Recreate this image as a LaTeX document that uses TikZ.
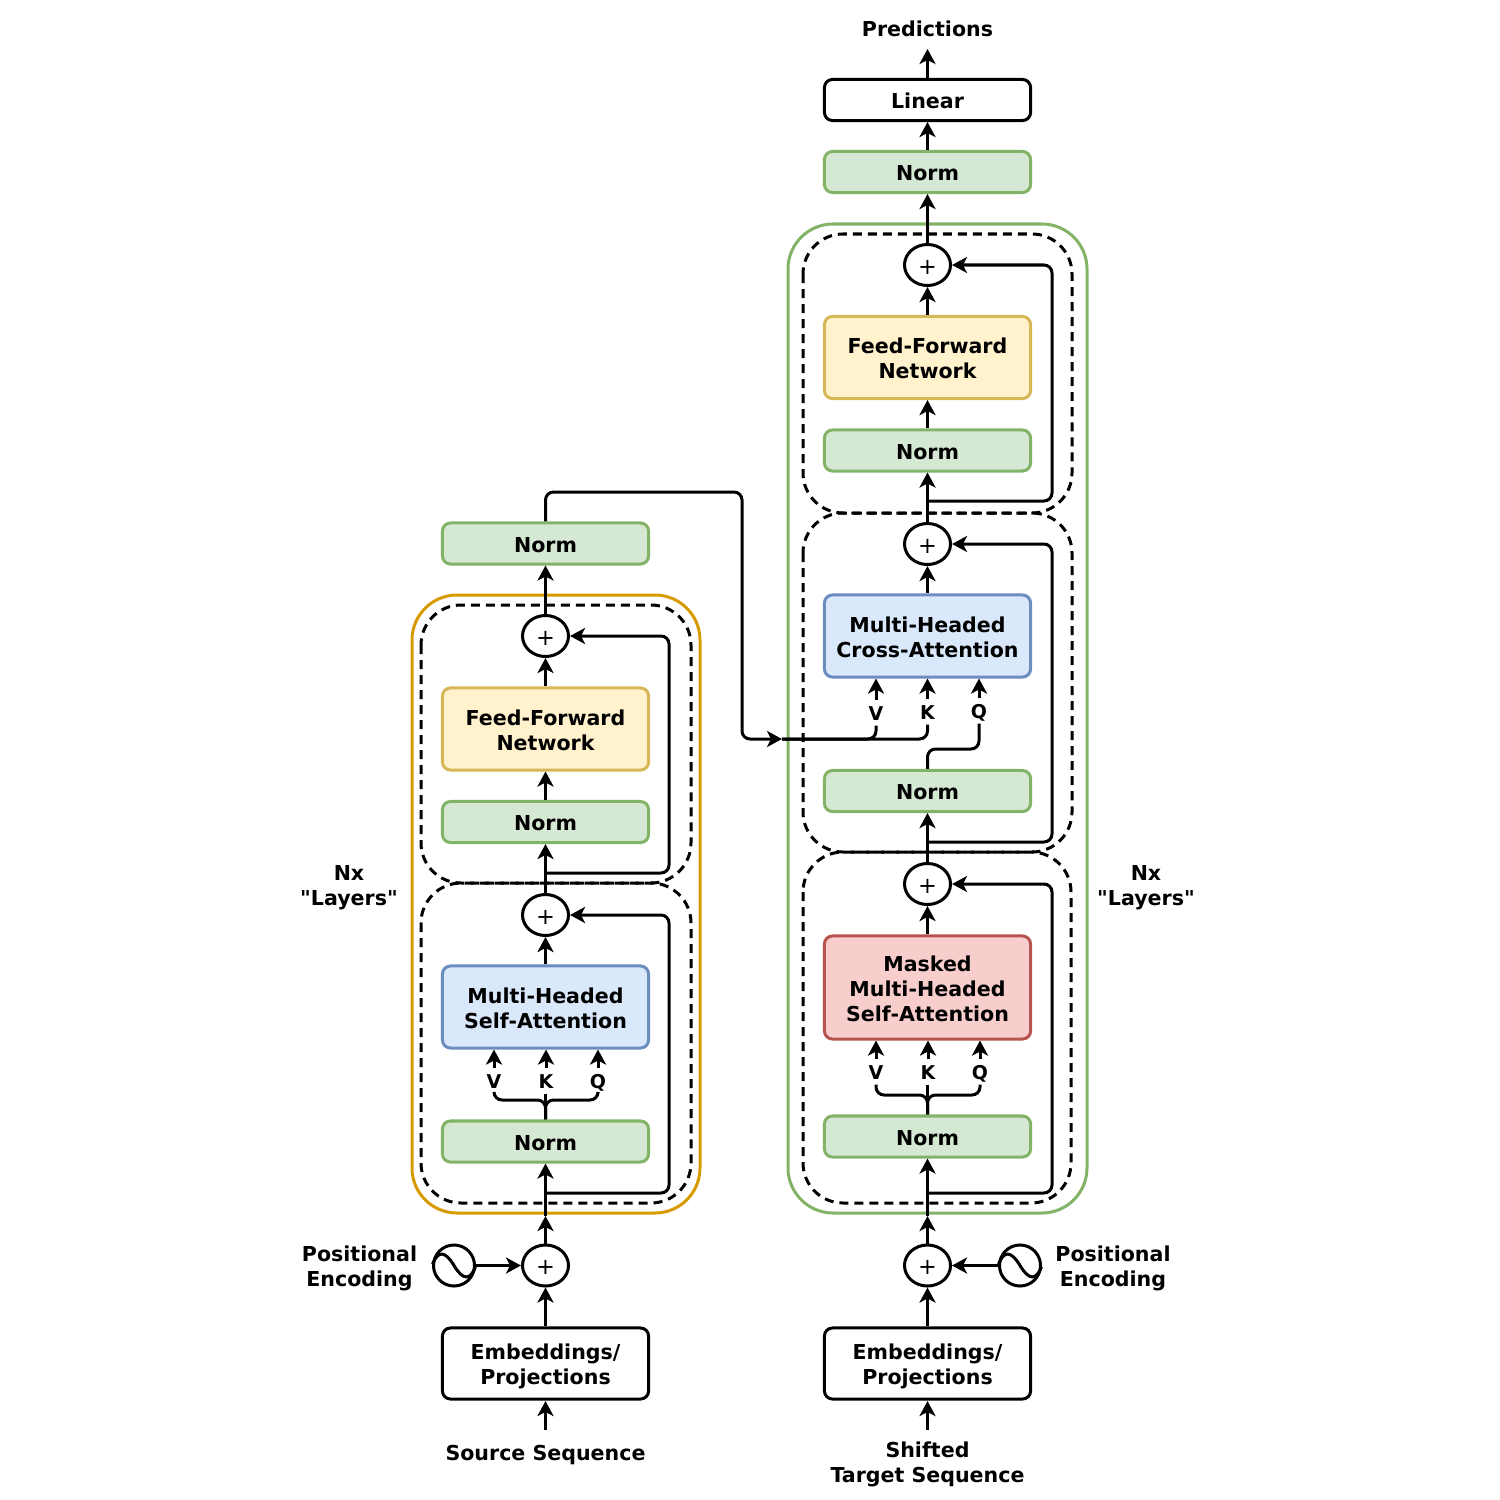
\documentclass[tikz,border=0pt]{standalone}
\usepackage{fontspec}
\setmainfont{DejaVu Sans}[Ligatures=TeXOff]
\usetikzlibrary{arrows.meta,shapes.geometric,calc}
\def\pxu{0.28453pt}
\def\topstrut{\rule{0pt}{6.5pt}}
\def\botstrut{\rule[-1.5pt]{0pt}{1.5pt}}
\definecolor{gfill}{HTML}{D5E8D4}\definecolor{gline}{HTML}{82B366}
\definecolor{yfill}{HTML}{FFF2CC}\definecolor{yline}{HTML}{D6B656}
\definecolor{bfill}{HTML}{DAE8FC}\definecolor{bline}{HTML}{6C8EBF}
\definecolor{rfill}{HTML}{F8CECC}\definecolor{rline}{HTML}{B85450}
\definecolor{gold}{HTML}{D79B00}
\tikzset{
  x=0.01cm,y=-0.01cm,
  txt/.style={font=\fontsize{5.85}{7.09}\selectfont\bfseries,align=center,inner sep=0pt,
    execute at begin node=\topstrut,execute at end node=\botstrut},
  basebox/.style={txt,draw,line width=3*\pxu,rounded corners=8*\pxu,minimum width=206*\pxu},
  normbox/.style={basebox,draw=gline,fill=gfill,minimum height=41*\pxu},
  ffbox/.style={basebox,draw=yline,fill=yfill,minimum height=82*\pxu},
  attbox/.style={basebox,draw=bline,fill=bfill,minimum height=82*\pxu},
  maskbox/.style={basebox,draw=rline,fill=rfill,minimum height=103*\pxu},
  plainbox/.style={basebox,draw=black,fill=white},
  plusnode/.style={ellipse,draw,fill=white,line width=3*\pxu,minimum width=46*\pxu,minimum height=41*\pxu,inner sep=0pt,font=\fontsize{6.4}{7.09}\selectfont},
  sinenode/.style={circle,draw,fill=white,line width=3*\pxu,minimum size=41*\pxu,inner sep=0pt},
  qkv/.style={font=\fontsize{5.4}{6}\selectfont\bfseries,inner sep=0pt,text height=4pt,text depth=0pt,minimum height=24*\pxu,minimum width=16*\pxu},
  conn/.style={line width=3*\pxu,-{Stealth[length=15*\pxu,width=16*\pxu,inset=4*\pxu]}},
  plainline/.style={line width=3*\pxu},
  elbow/.style={rounded corners=8*\pxu},
  layerbox/.style={draw,line width=3*\pxu,dash pattern=on 9*\pxu off 6*\pxu,rounded corners=40*\pxu},
  outerbox/.style={draw,line width=3*\pxu,rounded corners=45*\pxu},
}
\newcommand{\plussign}{\rule{0pt}{5.2pt}+}
\begin{document}
\begin{tikzpicture}
\useasboundingbox (0,0) rectangle (1500,1500);
% containers
\draw[outerbox,gold] (412,595) rectangle (700,1213);
\draw[outerbox,gline] (788,224) rectangle (1087,1213);
\draw[layerbox] (421,605) rectangle (691,883);
\draw[layerbox] (421,883) rectangle (691,1203);
\draw[layerbox] (803,234) rectangle (1072,513);
\draw[layerbox] (803,513) rectangle (1072,852);
\draw[layerbox] (803,852) rectangle (1071,1203);
% left column
\node[normbox] (lnorm3) at (545.5,543.5) {Norm};
\node[plusnode] (lp3) at (545.5,636) {\plussign};
\node[ffbox] (lff) at (545.5,729) {\topstrut Feed-Forward\\Network};
\node[normbox] (lnorm2) at (545.5,822) {Norm};
\node[plusnode] (lp2) at (545.5,915) {\plussign};
\node[attbox] (lsa) at (545.5,1007) {\topstrut Multi-Headed\\Self-Attention};
\node[normbox] (lnorm1) at (545.5,1141.5) {Norm};
\node[plusnode] (lp1) at (545.5,1265.5) {\plussign};
\node[plainbox,minimum height=71*\pxu] (lemb) at (545.5,1363.5) {\topstrut Embeddings/\\Projections};
\node[txt] (lsrc) at (545.5,1451.5) {Source Sequence};
\node[sinenode] (lsin) at (454,1265.5) {};
\node[txt] (lpos) at (359.5,1265) {\topstrut Positional\\Encoding};
\node[txt] (lnx) at (349,884) {\topstrut Nx\\"Layers"};
\node[qkv] (lv) at (494,1081) {V};
\node[qkv] (lk) at (546,1081) {K};
\node[qkv] (lq) at (598,1081) {Q};
% right column
\node[txt] (pred) at (927.5,27.5) {Predictions};
\node[plainbox,minimum height=41*\pxu] (lin) at (927.5,100) {Linear};
\node[normbox] (rnorm4) at (927.5,172) {Norm};
\node[plusnode] (rp3) at (927.5,265) {\plussign};
\node[ffbox] (rff) at (927.5,357.5) {\topstrut Feed-Forward\\Network};
\node[normbox] (rnorm3) at (927.5,450.5) {Norm};
\node[plusnode] (rp2) at (927.5,544) {\plussign};
\node[attbox] (rca) at (927.5,636) {\topstrut Multi-Headed\\Cross-Attention};
\node[normbox] (rnorm2) at (927.5,791) {Norm};
\node[plusnode] (rp1) at (927.5,884) {\plussign};
\node[maskbox] (rsa) at (927.5,987.5) {\topstrut Masked\\Multi-Headed\\Self-Attention};
\node[normbox] (rnorm1) at (927.5,1136.5) {Norm};
\node[plusnode] (rp0) at (927.5,1265.5) {\plussign};
\node[plainbox,minimum height=71*\pxu] (remb) at (927.5,1363.5) {\topstrut Embeddings/\\Projections};
\node[txt] (rsrc) at (927.5,1461) {\topstrut Shifted\\Target Sequence};
\node[sinenode] (rsin) at (1020,1265.5) {};
\node[txt] (rpos) at (1113,1265) {\topstrut Positional\\Encoding};
\node[txt] (rnx) at (1146,884) {\topstrut Nx\\"Layers"};
\node[qkv] (cv) at (876,713) {V};
\node[qkv] (ck) at (927.5,712) {K};
\node[qkv] (cq) at (979,711) {Q};
\node[qkv] (mv) at (876,1072) {V};
\node[qkv] (mk) at (928,1072) {K};
\node[qkv] (mq) at (980,1072) {Q};
% sine glyphs
\foreach \s in {lsin,rsin}
  \draw[plainline,shorten <=1.5*\pxu,shorten >=1.5*\pxu] (\s.west) .. controls +(6,-15) and +(-9,-15) .. (\s.center) .. controls +(9,15) and +(-6,15) .. (\s.east);
% free-end coordinates
\coordinate (lsrcTop) at (545.5,1430);
\coordinate (lembIn) at (545.5,1401);
\coordinate (rsrcTop) at (927.5,1430);
\coordinate (rembIn) at (927.5,1401);
\coordinate (predIn) at (927.5,49);
\coordinate (lgate) at (545.5,1216);
\coordinate (rgate) at (927.5,1216);
% straight arrows, left
\draw[conn] (lsrcTop) -- (lembIn);
\draw[conn] (lemb) -- (lp1);
\draw[conn] (lp1) -- (lgate);
\draw[conn] (lgate) -- (lnorm1);
\draw[conn] (lsin) -- (lp1);
\draw[conn] (lsa) -- (lp2);
\draw[conn] (lp2) -- (lnorm2);
\draw[conn] (lnorm2) -- (lff);
\draw[conn] (lff) -- (lp3);
\draw[conn] (lp3) -- (lnorm3);
\foreach \a in {lv,lk,lq} \draw[conn] (\a.north) -- (\a.north |- lsa.south);
\foreach \a in {cv,ck,cq} \draw[conn] (\a.north) -- (\a.north |- rca.south);
\foreach \a in {mv,mk,mq} \draw[conn] (\a.north) -- (\a.north |- rsa.south);
% straight arrows, right
\draw[conn] (rsrcTop) -- (rembIn);
\draw[conn] (remb) -- (rp0);
\draw[conn] (rp0) -- (rgate);
\draw[conn] (rgate) -- (rnorm1);
\draw[conn] (rsin) -- (rp0);
\draw[conn] (rsa) -- (rp1);
\draw[conn] (rp1) -- (rnorm2);
\draw[conn] (rca) -- (rp2);
\draw[conn] (rp2) -- (rnorm3);
\draw[conn] (rnorm3) -- (rff);
\draw[conn] (rff) -- (rp3);
\draw[conn] (rp3) -- (rnorm4);
\draw[conn] (rnorm4) -- (lin);
\draw[conn] (lin) -- (predIn);
% skip connections
\coordinate (s1) at (545.5,1193); \coordinate (s1r) at (669,1193);
\draw[conn,elbow] (s1) -- (s1r) -- (s1r |- lp2) -- (lp2.east);
\coordinate (s2) at (545.5,873); \coordinate (s2r) at (669,873);
\draw[conn,elbow] (s2) -- (s2r) -- (s2r |- lp3) -- (lp3.east);
\coordinate (s3) at (927.5,1193); \coordinate (s3r) at (1052,1193);
\draw[conn,elbow] (s3) -- (s3r) -- (s3r |- rp1) -- (rp1.east);
\coordinate (s4) at (927.5,842); \coordinate (s4r) at (1052,842);
\draw[conn,elbow] (s4) -- (s4r) -- (s4r |- rp2) -- (rp2.east);
\coordinate (s5) at (927.5,501); \coordinate (s5r) at (1052,501);
\draw[conn,elbow] (s5) -- (s5r) -- (s5r |- rp3) -- (rp3.east);
% V K Q forks
\coordinate (lbar) at (545.5,1100);
\draw[plainline] (lnorm1.north) -- (lk.south -| lnorm1.north);
\draw[plainline,elbow] (lnorm1.north) -- (lbar) -- (lbar -| lv.south) -- (lv.south);
\draw[plainline,elbow] (lnorm1.north) -- (lbar) -- (lbar -| lq.south) -- (lq.south);
\coordinate (mbar) at (927.5,1095);
\draw[plainline] (rnorm1.north) -- (mk.south -| rnorm1.north);
\draw[plainline,elbow] (rnorm1.north) -- (mbar) -- (mbar -| mv.south) -- (mv.south);
\draw[plainline,elbow] (rnorm1.north) -- (mbar) -- (mbar -| mq.south) -- (mq.south);
% encoder output to cross attention
\coordinate (e1) at (545.5,492); \coordinate (e2) at (742,492); \coordinate (e3) at (742,739);
\coordinate (e4) at (927.5,739); \coordinate (e5) at (782,739);
\draw[conn,elbow] (lnorm3.north) -- (e1) -- (e2) -- (e3) -- (e5);
\draw[plainline,elbow] (e5) -- (e4) -- (ck.south);
\draw[plainline,elbow] (e5) -- (cv.south |- e4) -- (cv.south);
\coordinate (q1) at (927.5,749);
\draw[plainline,elbow] (rnorm2.north) -- (q1) -- (q1 -| cq.south) -- (cq.south);
\end{tikzpicture}
\end{document}
